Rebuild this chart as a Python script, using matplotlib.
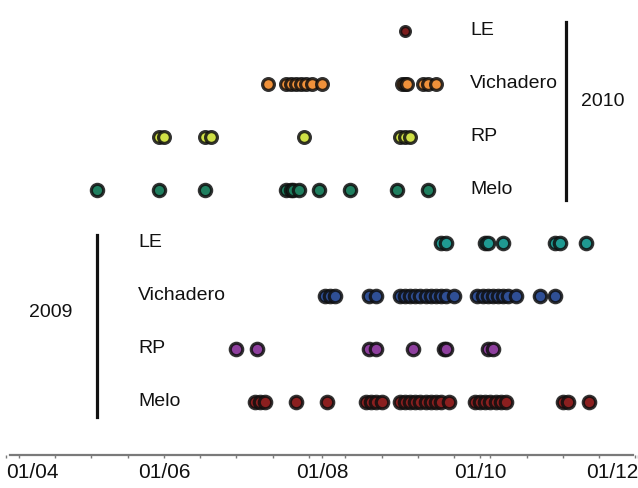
import matplotlib
matplotlib.use("Agg")
import matplotlib.pyplot as plt
import matplotlib.dates as mdates
import pandas as pd

plt.rcParams['font.family'] = ['Liberation Sans', 'DejaVu Sans']

# sampling dates (month-day), one list per site and year
le_2010 = ['09-02']
vichadero_2010 = ['07-11', '07-18', '07-20', '07-22', '07-24', '07-26', '07-28',
                  '08-01', '09-01', '09-02', '09-03', '09-09', '09-11', '09-14']
rp_2010 = ['05-30', '06-01', '06-17', '06-19', '07-25', '08-31', '09-02', '09-04']
melo_2010 = ['05-06', '05-30', '06-17', '07-18', '07-20', '07-21', '07-23',
             '07-31', '08-12', '08-30', '09-11']

le_2009 = ['09-16', '09-18', '10-03', '10-04', '10-10', '10-30', '11-01', '11-11']
vichadero_2009 = ['08-02', '08-04', '08-06', '08-19', '08-22',
                  '08-31', '09-02', '09-04', '09-06', '09-08', '09-10', '09-12',
                  '09-14', '09-16', '09-18', '09-21',
                  '09-30', '10-02', '10-04', '10-06', '10-08', '10-10', '10-12',
                  '10-15', '10-24', '10-30']
rp_2009 = ['06-29', '07-07', '08-19', '08-22', '09-05', '09-17', '09-18',
           '10-04', '10-06']
melo_2009 = ['07-06', '07-08', '07-10', '07-22', '08-03',
             '08-18', '08-20', '08-22', '08-24',
             '08-31', '09-02', '09-04', '09-06', '09-08', '09-10', '09-12',
             '09-14', '09-16', '09-19',
             '09-29', '10-01', '10-03', '10-05', '10-07', '10-09', '10-11',
             '11-02', '11-04', '11-12']

sites = ['Melo', 'RP', 'Vichadero', 'LE']
series_2009 = [melo_2009, rp_2009, vichadero_2009, le_2009]
series_2010 = [melo_2010, rp_2010, vichadero_2010, le_2010]
colors_2009 = ['#8b1f1f', '#8e3f9e', '#2f4f95', '#1f9a92']
colors_2010 = ['#1f7f5f', '#cfe046', '#f0913a', '#7b1c1c']

tick_dates = ['04-01', '06-01', '08-01', '10-01', '12-01']
tick_labels = ['01/04', '01/06', '01/08', '01/10', '01/12']


def to_dates(md):
    return pd.to_datetime(['2009-' + s for s in md])


fig = plt.figure(figsize=(6.38, 4.88), dpi=100)
ax = fig.add_axes([0, 33 / 488, 1, 455 / 488])

base = pd.Timestamp('2009-04-01')
ax.set_xlim(base - pd.Timedelta(days=2.3), base + pd.Timedelta(days=242.1))
ax.set_ylim(0, 8.58)

rows = list(zip(series_2009, colors_2009)) + list(zip(series_2010, colors_2010))
sizes = [80, 80, 80, 80, 78, 72, 72, 50]
for i, (md, c) in enumerate(rows):
    d = to_dates(md)
    ax.scatter(d, [i + 1] * len(d), s=sizes[i], color=c,
               edgecolors=(0.06, 0.06, 0.06, 0.85), linewidths=2.3, zorder=3)

tr = ax.get_yaxis_transform()
for i, name in enumerate(sites):
    ax.text(138 / 638, i + 1, name, transform=tr, fontsize=14,
            ha='left', va='center', color='#111111')
    ax.text(470 / 638, i + 5, name, transform=tr, fontsize=14,
            ha='left', va='center', color='#111111')

# year brackets
ax.plot([97 / 638, 97 / 638], [0.72, 4.15], transform=tr, color='#111111',
        lw=2.3, clip_on=False)
ax.plot([566 / 638, 566 / 638], [4.81, 8.17], transform=tr, color='#111111',
        lw=2.3, clip_on=False)
ax.text(51 / 638, 2.68, '2009', transform=tr, fontsize=14, ha='center',
        va='center', color='#111111')
ax.text(603 / 638, 6.66, '2010', transform=tr, fontsize=14, ha='center',
        va='center', color='#111111')

# axis styling
for side in ['left', 'top', 'right']:
    ax.spines[side].set_visible(False)
ax.spines['bottom'].set_color('#7a7a7a')
ax.spines['bottom'].set_linewidth(1.6)
ax.spines['bottom'].set_bounds(mdates.date2num(base + pd.Timedelta(days=1.5)),
                               mdates.date2num(base + pd.Timedelta(days=242.1)))
ax.set_yticks([])

ax.set_xticks(to_dates(tick_dates))
ax.set_xticklabels(tick_labels)
minor = pd.date_range('2009-04-06', '2009-12-01', freq='14D')
ax.set_xticks(minor, minor=True)
ax.tick_params(axis='x', which='both', direction='out', length=2.5,
               width=1, color='#7a7a7a', labelsize=15, pad=3,
               labelcolor='#111111')
labels = ax.get_xticklabels()
labels[0].set_ha('left')
labels[-1].set_ha('right')

fig.savefig('out.png', dpi=100)
